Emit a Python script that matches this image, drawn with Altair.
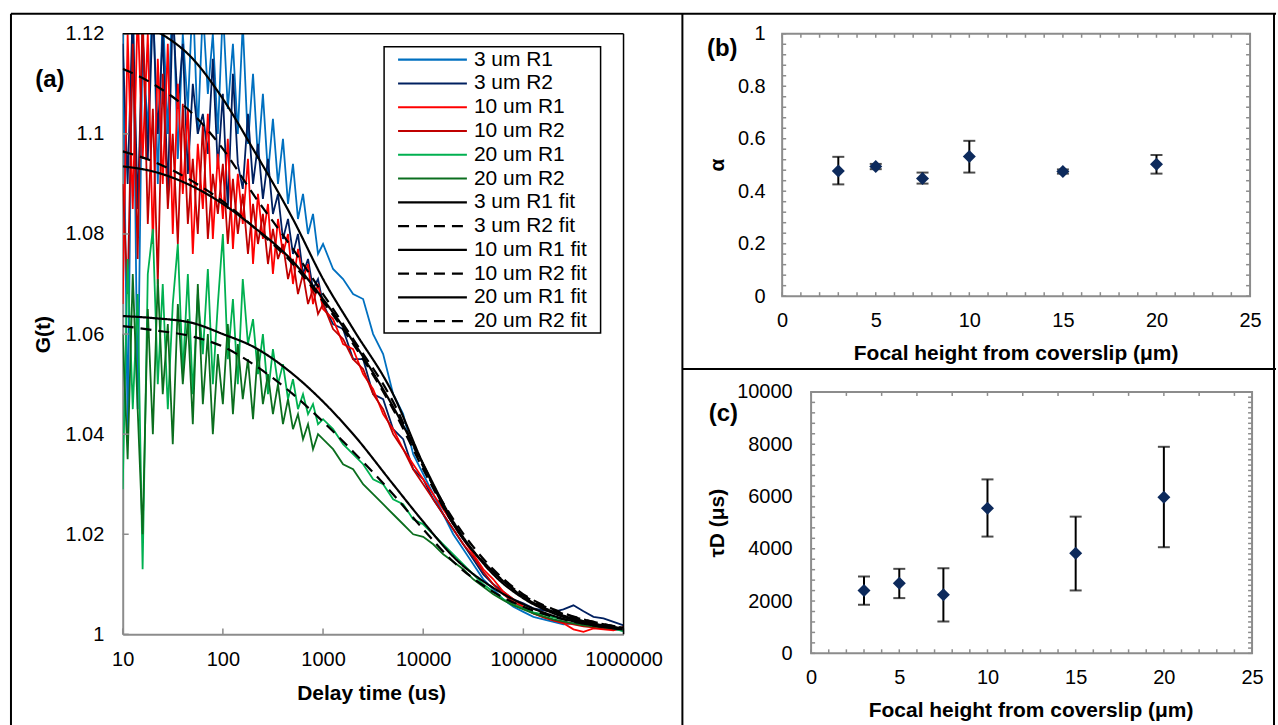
import altair as alt
import pandas as pd

FONT = "Liberation Sans"
GRAY = "#8c8c8c"

# ---------------- Panel (a) data ----------------
t_data = [10, 11.2, 12.6, 14.1, 15.8, 17.8, 20, 22.4, 25.1, 28.2,
          31.6, 35.5, 39.8, 44.7, 50.1, 56.2, 63.1, 70.8, 79.4, 89.1,
          100, 112, 126, 141, 158, 178, 200, 224, 251, 282,
          316, 355, 398, 447, 501, 562, 631, 708, 794, 891,
          1000, 1259, 1585, 1995, 2512, 3162, 3981, 5012, 6310, 7943,
          10000, 12589, 15849, 19953, 25119, 31623, 39811, 50119, 63096, 79433,
          100000, 125893, 158489, 199526, 251189, 316228, 398107, 501187, 630957, 794328, 1000000]

g_3um_r1 = [1.125, 1.040, 1.130, 1.045, 1.120, 1.100, 1.130, 1.090, 1.125, 1.100,
            1.130, 1.095, 1.120, 1.105, 1.128, 1.100, 1.125, 1.108, 1.120, 1.100,
            1.125, 1.105, 1.118, 1.100, 1.122, 1.098, 1.112, 1.095, 1.108, 1.092,
            1.103, 1.090, 1.099, 1.086, 1.094, 1.083, 1.088, 1.080, 1.084, 1.076,
            1.078, 1.073, 1.071, 1.068, 1.067, 1.060, 1.056, 1.048, 1.044, 1.036,
            1.032, 1.028, 1.024, 1.020, 1.017, 1.014, 1.011, 1.009, 1.007, 1.0055,
            1.0045, 1.0035, 1.0030, 1.0025, 1.0020, 1.0022, 1.0018, 1.0015, 1.0012, 1.0010, 1.0008]
g_3um_r2 = [1.118, 1.090, 1.125, 1.085, 1.120, 1.095, 1.125, 1.100, 1.120, 1.088,
            1.125, 1.105, 1.118, 1.092, 1.110, 1.100, 1.104, 1.096, 1.115, 1.093,
            1.108, 1.085, 1.112, 1.094, 1.089, 1.104, 1.090, 1.098, 1.087, 1.095,
            1.084, 1.088, 1.079, 1.083, 1.076, 1.080, 1.072, 1.075, 1.069, 1.071,
            1.066, 1.062, 1.061, 1.055, 1.055, 1.048, 1.047, 1.041, 1.039, 1.033,
            1.031, 1.027, 1.024, 1.021, 1.018, 1.015, 1.012, 1.010, 1.0085, 1.007,
            1.0062, 1.0052, 1.0048, 1.0045, 1.0050, 1.0058, 1.0046, 1.0035, 1.0032, 1.0025, 1.0018]
g_10um_r1 = [1.066, 1.120, 1.085, 1.125, 1.095, 1.120, 1.078, 1.115, 1.090, 1.118,
             1.080, 1.110, 1.088, 1.105, 1.076, 1.098, 1.085, 1.104, 1.079, 1.096,
             1.083, 1.099, 1.077, 1.092, 1.082, 1.095, 1.074, 1.088, 1.079, 1.086,
             1.072, 1.083, 1.076, 1.080, 1.070, 1.077, 1.071, 1.074, 1.066, 1.070,
             1.065, 1.063, 1.058, 1.057, 1.052, 1.049, 1.044, 1.041, 1.037, 1.034,
             1.031, 1.028, 1.025, 1.022, 1.019, 1.016, 1.013, 1.011, 1.0085, 1.007,
             1.0055, 1.0042, 1.0035, 1.0028, 1.0022, 1.0010, 1.0005, 1.0012, 1.0010, 1.0008, 1.0015]
g_10um_r2 = [1.090, 1.068, 1.118, 1.075, 1.125, 1.082, 1.105, 1.070, 1.112, 1.085,
             1.100, 1.078, 1.106, 1.082, 1.095, 1.080, 1.102, 1.079, 1.092, 1.084,
             1.094, 1.078, 1.091, 1.080, 1.088, 1.076, 1.086, 1.078, 1.084, 1.074,
             1.081, 1.075, 1.078, 1.071, 1.075, 1.068, 1.072, 1.066, 1.069, 1.064,
             1.066, 1.061, 1.059, 1.055, 1.053, 1.048, 1.045, 1.040, 1.037, 1.033,
             1.030, 1.027, 1.024, 1.021, 1.018, 1.0155, 1.0125, 1.010, 1.008, 1.0065,
             1.0052, 1.0042, 1.0034, 1.0028, 1.0024, 1.0020, 1.0016, 1.0014, 1.0012, 1.0010, 1.0010]
g_20um_r1 = [1.029, 1.075, 1.045, 1.068, 1.013, 1.072, 1.081, 1.050, 1.070, 1.045,
             1.066, 1.078, 1.052, 1.072, 1.048, 1.068, 1.056, 1.073, 1.050, 1.066,
             1.080, 1.055, 1.067, 1.050, 1.071, 1.058, 1.063, 1.052, 1.060, 1.048,
             1.057, 1.050, 1.054, 1.047, 1.051, 1.045, 1.048, 1.044, 1.046, 1.042,
             1.043, 1.041, 1.038, 1.036, 1.034, 1.031, 1.030, 1.027, 1.026, 1.023,
             1.022, 1.020, 1.018, 1.016, 1.014, 1.012, 1.010, 1.0085, 1.007, 1.006,
             1.0052, 1.0044, 1.0040, 1.0034, 1.0030, 1.0032, 1.0026, 1.0020, 1.0016, 1.0012, 1.0006]
g_20um_r2 = [1.060, 1.035, 1.072, 1.045, 1.020, 1.065, 1.040, 1.071, 1.048, 1.062,
             1.038, 1.066, 1.050, 1.063, 1.042, 1.070, 1.046, 1.060, 1.040, 1.056,
             1.046, 1.062, 1.044, 1.058, 1.047, 1.055, 1.043, 1.057, 1.046, 1.052,
             1.044, 1.050, 1.042, 1.047, 1.041, 1.044, 1.039, 1.042, 1.037, 1.040,
             1.039, 1.037, 1.034, 1.033, 1.030, 1.028, 1.026, 1.024, 1.022, 1.020,
             1.0195, 1.018, 1.016, 1.0145, 1.013, 1.011, 1.0095, 1.008, 1.0068, 1.0058,
             1.0050, 1.0042, 1.0036, 1.0030, 1.0026, 1.0022, 1.0018, 1.0016, 1.0014, 1.0012, 1.0010]

t_fit = [10, 20, 50, 100, 200, 500, 1000, 2000, 5000, 10000,
         20000, 50000, 100000, 200000, 500000, 1000000]
f_3um_r1 = [1.124, 1.121, 1.115, 1.107, 1.097, 1.083, 1.071, 1.061, 1.048, 1.034,
            1.022, 1.0125, 1.0075, 1.0045, 1.0022, 1.0012]
f_3um_r2 = [1.113, 1.110, 1.104, 1.097, 1.088, 1.077, 1.068, 1.059, 1.0465, 1.0335,
            1.023, 1.013, 1.008, 1.005, 1.0025, 1.0013]
f_10um_r1 = [1.0935, 1.0925, 1.0895, 1.086, 1.0815, 1.0745, 1.067, 1.0585, 1.0455, 1.034,
             1.0225, 1.012, 1.0072, 1.0042, 1.002, 1.001]
f_10um_r2 = [1.0965, 1.0945, 1.0905, 1.0865, 1.0815, 1.074, 1.0665, 1.058, 1.045, 1.033,
             1.022, 1.0125, 1.0078, 1.0048, 1.0025, 1.0013]
f_20um_r1 = [1.0636, 1.0632, 1.0622, 1.060, 1.0575, 1.052, 1.0465, 1.040, 1.030, 1.0225,
             1.0155, 1.0093, 1.006, 1.0037, 1.0018, 1.001]
f_20um_r2 = [1.0616, 1.0608, 1.0595, 1.0575, 1.054, 1.048, 1.0425, 1.0365, 1.028, 1.021,
             1.0145, 1.0085, 1.0055, 1.0035, 1.0018, 1.001]

series_names = ["3 um R1", "3 um R2", "10 um R1", "10 um R2", "20 um R1", "20 um R2"]
fit_names = ["3 um R1 fit", "3 um R2 fit", "10 um R1 fit", "10 um R2 fit", "20 um R1 fit", "20 um R2 fit"]
all_names = series_names + fit_names
series_colors = ["#0070C0", "#002060", "#FF0000", "#C00000", "#00B050", "#0B6E1E",
                 "#000000", "#000000", "#000000", "#000000", "#000000", "#000000"]
series_dashes = [[1, 0], [1, 0], [1, 0], [1, 0], [1, 0], [1, 0],
                 [1, 0], [11, 7], [1, 0], [11, 7], [1, 0], [11, 7]]

a_y_ticks = [1, 1.02, 1.04, 1.06, 1.08, 1.1, 1.12]
a_x_ticks = [10, 100, 1000, 10000, 100000, 1000000]

# ---------------- Panels (b), (c) data ----------------
heights = [3, 5, 7.5, 10, 15, 20]
alpha = [0.477, 0.494, 0.448, 0.532, 0.475, 0.503]
alpha_lo = [0.426, 0.484, 0.429, 0.471, 0.467, 0.467]
alpha_hi = [0.531, 0.504, 0.471, 0.592, 0.483, 0.538]
tau_d = [2405, 2684, 2239, 5547, 3830, 5967]
tau_lo = [1858, 2112, 1221, 4466, 2405, 4059]
tau_hi = [2939, 3232, 3257, 6654, 5229, 7901]

# ---------------- build tables ----------------
data_rows = []
for name, vals in zip(series_names, [g_3um_r1, g_3um_r2, g_10um_r1, g_10um_r2, g_20um_r1, g_20um_r2]):
    for t, g in zip(t_data, vals):
        data_rows.append({"t": t, "G": g, "series": name})
df_data = pd.DataFrame(data_rows)

fit_rows = []
for name, vals in zip(fit_names, [f_3um_r1, f_3um_r2, f_10um_r1, f_10um_r2, f_20um_r1, f_20um_r2]):
    for t, g in zip(t_fit, vals):
        fit_rows.append({"t": t, "G": g, "series": name})
df_fit = pd.DataFrame(fit_rows)

df_leg = pd.DataFrame({"series": all_names})
one = pd.DataFrame({"k": [0]})

color_scale = alt.Scale(domain=all_names, range=series_colors)
dash_scale = alt.Scale(domain=all_names, range=series_dashes)

AW, AH = 502, 602

xa = alt.X("t:Q", scale=alt.Scale(type="log", domain=[10, 1000000], nice=False),
           axis=alt.Axis(values=a_x_ticks, format="d", title="Delay time (us)",
                         titleX=249, titleY=59, titleAlign="center", titleBaseline="middle",
                         labelPadding=15, labelFlush=False, labelOverlap=False, labelBound=False,
                         domain=True, domainColor=GRAY, domainWidth=2))
ya = alt.Y("G:Q", scale=alt.Scale(domain=[1, 1.12], nice=False, zero=False),
           axis=alt.Axis(values=a_y_ticks, format="~g", title="G(t)",
                         titleX=-79, titleY=301, titleAngle=270, titleAlign="center",
                         titleBaseline="middle", labelPadding=19, labelFlush=False, labelOverlap=False,
                         domain=True, domainColor=GRAY, domainWidth=2))

lines = alt.Chart(df_data).mark_line(strokeWidth=1.8, clip=True).encode(
    x=xa, y=ya, color=alt.Color("series:N", scale=color_scale, legend=None))
fits = alt.Chart(df_fit).mark_line(strokeWidth=2.2, clip=True, interpolate="monotone").encode(
    x=xa, y=ya, color=alt.Color("series:N", scale=color_scale, legend=None),
    strokeDash=alt.StrokeDash("series:N", scale=dash_scale, legend=None))
a_yt = alt.Chart(pd.DataFrame({"G": a_y_ticks})).mark_rule(color=GRAY, strokeWidth=1.5).encode(
    y=ya, x=alt.value(0), x2=alt.value(6))
a_xt = alt.Chart(pd.DataFrame({"t": a_x_ticks})).mark_rule(color=GRAY, strokeWidth=1.5).encode(
    x=xa, y=alt.value(AH), y2=alt.value(AH - 6))
a_top = alt.Chart(one).mark_rule(color="black", strokeWidth=1.5).encode(
    x=alt.value(0), x2=alt.value(AW), y=alt.value(0))
a_right = alt.Chart(one).mark_rule(color="black", strokeWidth=1.5).encode(
    x=alt.value(AW), y=alt.value(0), y2=alt.value(AH))
main_a = alt.layer(lines, fits, a_yt, a_xt, a_top, a_right)

yleg = alt.Y("series:N", scale=alt.Scale(type="point", domain=all_names, range=[26, 288], padding=0), axis=None)
leg_box = alt.Chart(one).mark_rect(fill="white", stroke="black", strokeWidth=1.5).encode(
    x=alt.value(262), x2=alt.value(479), y=alt.value(13), y2=alt.value(300))
leg_rules = alt.Chart(df_leg).mark_rule(strokeWidth=2.2).encode(
    y=yleg, x=alt.value(276), x2=alt.value(345),
    color=alt.Color("series:N", scale=color_scale, legend=None),
    strokeDash=alt.StrokeDash("series:N", scale=dash_scale, legend=None))
leg_text = alt.Chart(df_leg).mark_text(align="left", baseline="middle", fontSize=21, color="black").encode(
    y=yleg, x=alt.value(352), text="series:N")

# page frame (decoration) relative to panel (a) origin
frame_top = alt.Chart(one).mark_rule(color="black", strokeWidth=2).encode(
    x=alt.value(-112), x2=alt.value(1156), y=alt.value(-20))
frame_left = alt.Chart(one).mark_rule(color="black", strokeWidth=2).encode(
    x=alt.value(-112), y=alt.value(-20), y2=alt.value(693))
frame_mid = alt.Chart(one).mark_rule(color="black", strokeWidth=2).encode(
    x=alt.value(561), y=alt.value(-20), y2=alt.value(693))
frame_h = alt.Chart(one).mark_rule(color="black", strokeWidth=2).encode(
    x=alt.value(561), x2=alt.value(1156), y=alt.value(336))
frame_right = alt.Chart(one).mark_rule(color="black", strokeWidth=2).encode(
    x=alt.value(1154), y=alt.value(-20), y2=alt.value(693))
label_a = alt.Chart(one).mark_text(fontSize=24, fontWeight="bold", align="center", baseline="middle").encode(
    x=alt.value(-73), y=alt.value(46), text=alt.value("(a)"))

legend_a = alt.layer(leg_box, leg_rules, leg_text, frame_top, frame_left, frame_mid, frame_h, frame_right, label_a)

panel_a = alt.layer(main_a, legend_a).resolve_scale(y="independent").properties(width=AW, height=AH)


def scatter_panel(W, H, yvals, lo, hi, ydomain, ymajor, ytitle, yformat, ytitle_xy, ylabpad,
                  yminor_left, yminor_right, xminor_top, xtitle_xy, label, label_xy):
    df = pd.DataFrame({"h": heights, "v": yvals, "lo": lo, "hi": hi})
    xax = alt.Axis(values=[0, 5, 10, 15, 20, 25], format="d", title="Focal height from coverslip (μm)",
                   titleX=xtitle_xy[0], titleY=xtitle_xy[1], titleAlign="center", titleBaseline="middle",
                   labelPadding=14, labelFlush=False, labelOverlap=False, labelBound=False, domain=False)
    yax = alt.Axis(values=ymajor, format=yformat, title=ytitle,
                   titleX=ytitle_xy[0], titleY=ytitle_xy[1], titleAngle=270, titleAlign="center",
                   titleBaseline="middle", labelPadding=ylabpad, labelFlush=False, labelOverlap=False,
                   domain=False)
    xs = alt.Scale(domain=[0, 25], nice=False)
    ys = alt.Scale(domain=ydomain, nice=False)
    base = alt.Chart(df)
    err = base.mark_rule(color="black", strokeWidth=2).encode(
        x=alt.X("h:Q", scale=xs, axis=xax), y=alt.Y("lo:Q", scale=ys, axis=yax), y2="hi:Q")
    cap_lo = base.mark_tick(orient="horizontal", size=12, thickness=2, color="black").encode(
        x=alt.X("h:Q", scale=xs, axis=xax), y=alt.Y("lo:Q", scale=ys, axis=yax))
    cap_hi = base.mark_tick(orient="horizontal", size=12, thickness=2, color="black").encode(
        x=alt.X("h:Q", scale=xs, axis=xax), y=alt.Y("hi:Q", scale=ys, axis=yax))
    pts = base.mark_point(shape="diamond", filled=True, size=170, color="#0d2a5c", opacity=1).encode(
        x=alt.X("h:Q", scale=xs, axis=xax), y=alt.Y("v:Q", scale=ys, axis=yax))
    xt_b = alt.Chart(pd.DataFrame({"h": list(range(26))})).mark_rule(color=GRAY, strokeWidth=1.5).encode(
        x=alt.X("h:Q", scale=xs, axis=xax), y=alt.value(H), y2=alt.value(H - 4))
    xt_t = alt.Chart(pd.DataFrame({"h": xminor_top})).mark_rule(color=GRAY, strokeWidth=1.5).encode(
        x=alt.X("h:Q", scale=xs, axis=xax), y=alt.value(0), y2=alt.value(4))
    yt_l = alt.Chart(pd.DataFrame({"lo": yminor_left})).mark_rule(color=GRAY, strokeWidth=1.5).encode(
        y=alt.Y("lo:Q", scale=ys, axis=yax), x=alt.value(0), x2=alt.value(4))
    yt_r = alt.Chart(pd.DataFrame({"lo": yminor_right})).mark_rule(color=GRAY, strokeWidth=1.5).encode(
        y=alt.Y("lo:Q", scale=ys, axis=yax), x=alt.value(W), x2=alt.value(W - 4))
    lab = alt.Chart(one).mark_text(fontSize=24, fontWeight="bold", align="center", baseline="middle").encode(
        x=alt.value(label_xy[0]), y=alt.value(label_xy[1]), text=alt.value(label))
    return alt.layer(xt_b, xt_t, yt_l, yt_r, err, cap_lo, cap_hi, pts, lab).properties(
        width=W, height=H, view=alt.ViewBackground(stroke=GRAY, strokeWidth=2))


panel_b = scatter_panel(469, 263, alpha, alpha_lo, alpha_hi, [0, 1], [0, 0.2, 0.4, 0.6, 0.8, 1],
                        "α", "~g", (-65, 131), 17,
                        [i * 0.04 for i in range(26)], [i * 0.04 for i in range(26)],
                        list(range(26)), (234, 57), "(b)", (-60, 15))
panel_c = scatter_panel(442, 262, tau_d, tau_lo, tau_hi, [0, 10000], [0, 2000, 4000, 6000, 8000, 10000],
                        "τD (μs)", "d", (-94, 131), 19,
                        [i * 400 for i in range(26)], [i * 200 for i in range(51)],
                        list(range(0, 26, 2)), (220, 57), "(c)", (-88, 22))

spacer = alt.Chart(one).mark_point(opacity=0).encode(
    x=alt.X("k:Q", axis=None), y=alt.Y("k:Q", axis=None)).properties(width=29, height=262)

col = alt.vconcat(panel_b, alt.hconcat(spacer, panel_c, spacing=0, bounds="flush"),
                  spacing=96, bounds="flush")

chart = alt.hconcat(panel_a, col, spacing=159, bounds="flush").properties(
    padding={"left": 9, "top": 11, "right": 0, "bottom": 0},
    autosize=alt.AutoSizeParams(type="pad"),
    background="white",
).configure(font=FONT).configure_axis(
    labelFont=FONT, titleFont=FONT, labelFontSize=20, titleFontSize=21, titleFontWeight="bold",
    labelColor="black", titleColor="black", grid=False, ticks=False, tickSize=0,
).configure_view(stroke="transparent")

chart.save("out.html", embed_options={"renderer": "svg", "actions": False})
